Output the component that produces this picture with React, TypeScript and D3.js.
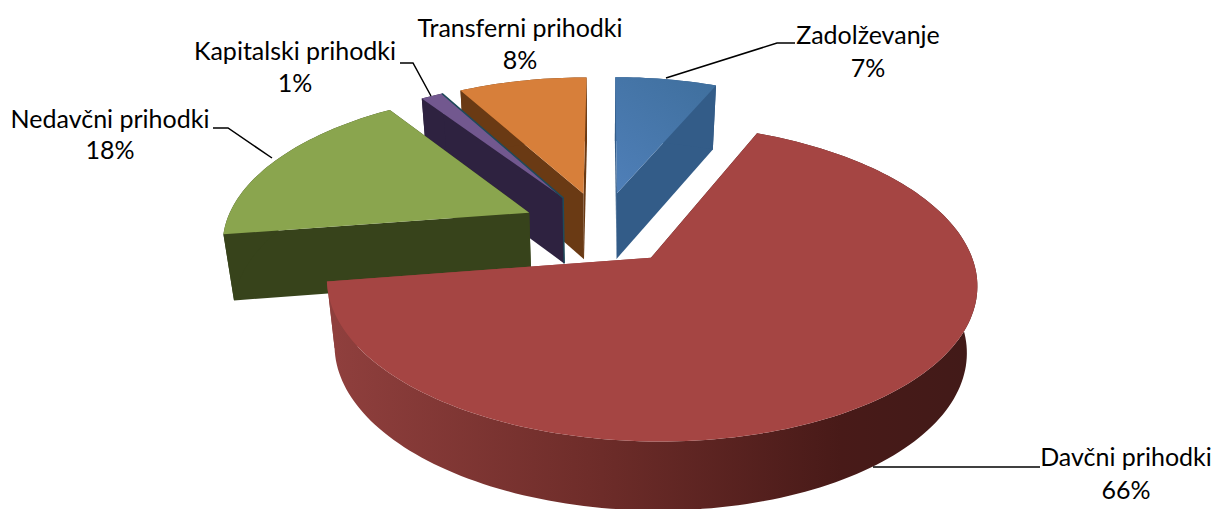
import React from "react";
import * as d3 from "d3";

const categories = ["Davčni prihodki", "Nedavčni prihodki", "Kapitalski prihodki", "Transferni prihodki", "Zadolževanje"];
const shares = [66.1, 17.8, 1.4, 8.2, 6.5];
const topColors = ["#a54543", "#8aa54e", "#72588f", "#d77f3a", "url(#blueTop)"];
const wallColors = ["url(#redWall)", "#37431b", "#2e2240", "#6a3a14", "#335c88"];

const W = 1216, H = 509;
const CX = 602, CY = 228, RX = 305, RY = 147.6;
const explode = [0.25, 0.265, 0.25, 0.25, 0.25];
const radiusX = [1.022, 1, 1, 1, 1];
const radiusZ = [0.99, 1, 1, 1, 1];
const perspective = [0.15, 0.175, 0.175, 0.175, 0.175];
const START = (23.5 * Math.PI) / 180;
const DEPTH_SCALE = 0.972, DEPTH = 66, DEPTH_GROW = 0.014;

type P = [number, number];

const project = (i: number, X: number, Z: number): P => {
  const w = 1 / (1 - perspective[i] * Z);
  return [CX + RX * radiusX[i] * X * w, CY + RY * radiusZ[i] * Z * w];
};
const lower = ([x, y]: P): P => [
  CX + (x - CX) * DEPTH_SCALE,
  y + DEPTH + DEPTH_GROW * (y - CY),
];

const pie = d3.pie<number>().sort(null).startAngle(START).endAngle(START + 2 * Math.PI);
const arcs = pie(shares);
const line = d3.line<P>();

const drawOrder = [4, 3, 2, 1, 0];

function geometry(i: number) {
  const a = arcs[i];
  const mid = (a.startAngle + a.endAngle) / 2;
  const ox = explode[i] * Math.sin(mid);
  const oz = -explode[i] * Math.cos(mid);
  const apex = project(i, ox, oz);
  const n = Math.max(4, Math.ceil((a.endAngle - a.startAngle) * 40));
  const rim: P[] = d3.range(n + 1).map((k) => {
    const t = a.startAngle + ((a.endAngle - a.startAngle) * k) / n;
    return project(i, ox + Math.sin(t), oz - Math.cos(t));
  });
  return { apex, rim };
}

const labels = [
  { i: 0, x: 1126, y1: 466, y2: 499 },
  { i: 1, x: 110, y1: 128, y2: 159 },
  { i: 2, x: 295, y1: 60, y2: 92 },
  { i: 3, x: 520, y1: 37, y2: 69 },
  { i: 4, x: 868, y1: 44, y2: 77 },
];
const leaders: P[][] = [
  [[1040, 467], [873, 467]],
  [[213, 128], [228, 128], [272, 158]],
  [[400, 63], [413, 63], [431, 96]],
  [[795, 43], [777, 43], [666, 78]],
];

export default function App() {
  return (
    <svg width={W} height={H} viewBox={`0 0 ${W} ${H}`}
      style={{ position: "absolute", left: 0, top: 0, background: "#fff" }}>
      <defs>
        <linearGradient id="redWall" gradientUnits="userSpaceOnUse" x1="335" x2="968" y1="0" y2="0">
          <stop offset="0" stopColor="#8f3f3d" />
          <stop offset="0.4" stopColor="#6f2d2a" />
          <stop offset="0.8" stopColor="#481a18" />
          <stop offset="1" stopColor="#421a18" />
        </linearGradient>
        <linearGradient id="blueTop" gradientUnits="userSpaceOnUse" x1="614" x2="700" y1="190" y2="80">
          <stop offset="0" stopColor="#4f7fb8" />
          <stop offset="1" stopColor="#40709f" />
        </linearGradient>
      </defs>
      {drawOrder.map((i) => {
        const { apex, rim } = geometry(i);
        const first = rim[0], last = rim[rim.length - 1];
        const wall = wallColors[i];
        const solid = wall.startsWith("url") ? "#421a18" : wall;
        return (
          <g key={categories[i]}>
            <path d={line([apex, last, lower(last), lower(apex)])! + "Z"} fill={i === 0 ? "#8f3f3d" : wall} />
            <path d={line([apex, first, lower(first), lower(apex)])! + "Z"} fill={solid} />
            <path d={line([...rim, ...rim.map(lower).reverse()])! + "Z"} fill={wall} />
            <path d={line([apex, ...rim])! + "Z"} fill={topColors[i]} />
            {i === 2 && (
              <path d={line([last, apex, lower(apex)])!} fill="none" stroke="#1f4a5a" strokeWidth={1.5} />
            )}
          </g>
        );
      })}
      {leaders.map((pts, k) => (
        <path key={k} d={line(pts)!} fill="none" stroke="#000" strokeWidth={1.5} />
      ))}
      {labels.map((l) => (
        <g key={l.i} fontFamily="Lato, 'Open Sans', sans-serif" fontSize={25} fill="#000" textAnchor="middle">
          <text x={l.x} y={l.y1}>{categories[l.i]}</text>
          <text x={l.x} y={l.y2}>{Math.round(shares[l.i])}%</text>
        </g>
      ))}
    </svg>
  );
}
